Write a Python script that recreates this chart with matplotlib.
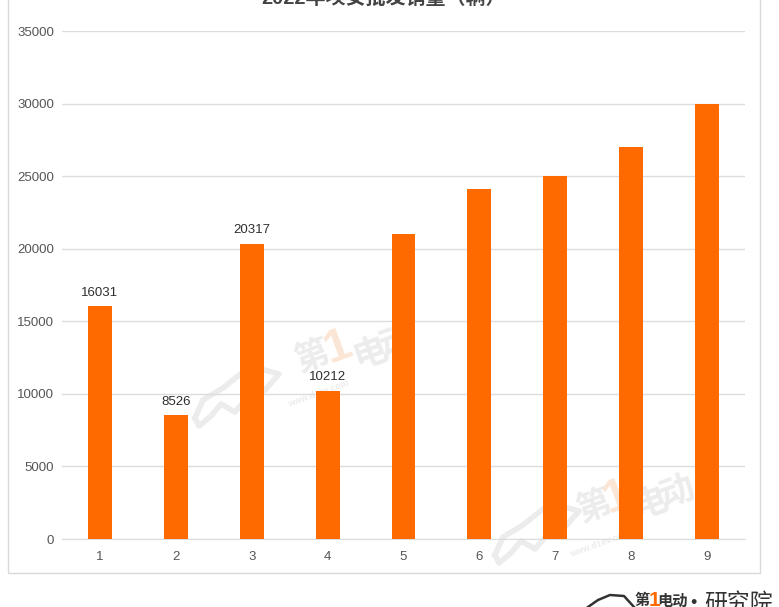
import matplotlib
matplotlib.use('Agg')
import matplotlib.pyplot as plt
from matplotlib.lines import Line2D
from matplotlib.patches import Rectangle

plt.rcParams['font.family'] = ['Liberation Sans', 'Noto Sans CJK SC', 'DejaVu Sans']

W, H = 779, 607

months = [1, 2, 3, 4, 5, 6, 7, 8, 9]
sales = [16031, 8526, 20317, 10212, 21000, 24100, 25000, 27000, 30000]
# only the first four bars carry a label in the original
shown_labels = ['16031', '8526', '20317', '10212', '', '', '', '', '']
y_ticks = [0, 5000, 10000, 15000, 20000, 25000, 30000, 35000]
title = '2022年埃安批发销量（辆）'
watermark_url = 'www.d1ev.com'
footer_name = '研究院'

ORANGE = '#ff6a00'
GRID = '#dcdcdc'
TEXT = '#2e2e2e'
MARK = '#ececec'
MARK_ONE = '#fbe6d6'
LOGO = '#333333'


def fx(x):
    return x / W


def fy(y):
    return 1 - y / H


def mark_text(fig, x, y, s, size, color=MARK):
    fig.text(fx(x), fy(y), s, color=color, fontsize=size, fontweight='bold',
             rotation=20, ha='center', va='center', zorder=-1)


def draw_watermark(fig, car_x0, car_y0, xs, y0):
    # rough car outline, then the rotated site name
    car_x = [0, 8, 28, 48, 62, 84, 70, 52, 40, 26, 16, 4, 0]
    car_y = [50, 32, 20, 4, 0, 6, 22, 30, 44, 36, 48, 58, 50]
    fig.add_artist(Line2D([fx(car_x0 + a) for a in car_x], [fy(car_y0 + b) for b in car_y],
                          color=MARK, lw=4, solid_joinstyle='round', zorder=-1))
    mark_text(fig, xs[0], y0, '第', 25)
    mark_text(fig, xs[1], y0 - 10, '1', 34, MARK_ONE)
    mark_text(fig, xs[2], y0 - 4, '电', 25)
    mark_text(fig, xs[3], y0 - 14, '动', 25)
    mark_text(fig, xs[0] + 5, y0 + 37, watermark_url, 6.5)


fig = plt.figure(figsize=(W / 100, H / 100), dpi=100, facecolor='white')

# outer frame, its top edge runs off the picture
fig.add_artist(Rectangle((fx(7.5), fy(573)), fx(752.5), fy(-20) - fy(573), fill=False,
                         edgecolor='#d9d9d9', lw=1, zorder=-2))

draw_watermark(fig, 195, 368, [313, 338, 370, 397], 357)
draw_watermark(fig, 495, 505, [595, 617, 650, 677], 507)

ax = fig.add_axes([fx(62), fy(539), fx(683), fy(31) - fy(539)])
ax.patch.set_alpha(0)
ax.bar(months, sales, width=0.316, color=ORANGE, zorder=3)

for m, v, lab in zip(months, sales, shown_labels):
    if lab:
        ax.annotate(lab, (m, v), xytext=(0, 5.5), textcoords='offset points', ha='center',
                    va='bottom', fontsize=9.5, color=TEXT, zorder=4)

ax.set_xlim(0.5, 9.5)
ax.set_ylim(0, 35000)
ax.set_xticks(months)
ax.set_yticks(y_ticks)
ax.tick_params(axis='both', length=0, labelsize=9.5, labelcolor='#555555')
ax.tick_params(axis='x', pad=9)
ax.tick_params(axis='y', pad=5.5)
ax.grid(axis='y', color=GRID, lw=1, zorder=1)
ax.set_axisbelow(True)
for side in ['top', 'right', 'left']:
    ax.spines[side].set_visible(False)
ax.spines['bottom'].set_color(GRID)

# title and footer logo are both cut by the picture edge in the original
fig.text(fx(383), fy(-2), title, fontsize=14.4, fontweight='bold', color='#444444',
         ha='center', va='center')
fig.add_artist(Line2D([fx(v) for v in [588, 598, 610, 624, 634]],
                      [fy(v) for v in [607, 600, 595, 596, 607]], color=LOGO, lw=1.8))
fig.text(fx(642), fy(601), '第', fontsize=11, fontweight='bold', color=LOGO, ha='center', va='center')
fig.text(fx(654), fy(600), '1', fontsize=15, fontweight='bold', color=ORANGE, ha='center', va='center')
fig.text(fx(673), fy(602), '电动', fontsize=11, fontweight='bold', color=LOGO, ha='center', va='center')
fig.text(fx(693), fy(604), '•', fontsize=13, color=LOGO, ha='center', va='center')
fig.text(fx(739), fy(604), footer_name, fontsize=16.5, color=LOGO, ha='center', va='center')

fig.savefig('out.png', dpi=100)
